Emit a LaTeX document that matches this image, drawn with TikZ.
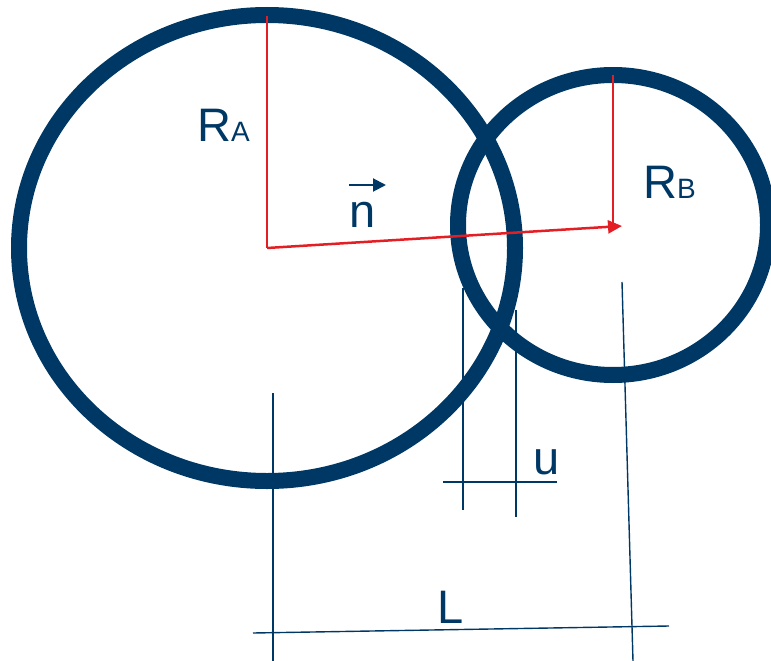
\documentclass[tikz,border=0pt]{standalone}
\usepackage{fontspec}
\setmainfont{Liberation Sans}
\usetikzlibrary{arrows.meta}
\definecolor{navy}{RGB}{0,56,101}
\definecolor{vecred}{RGB}{227,30,36}
\newcommand{\subtxt}[1]{{\fontsize{28}{30}\selectfont #1}}

\begin{document}
\begin{tikzpicture}[x=1pt,y=-1pt,
  ring/.style={draw=navy,line width=16pt},
  dim/.style={navy,line width=1.4pt},
  radline/.style={vecred,line width=1.5pt},
  lbl/.style={navy,inner sep=0pt,anchor=base west,font=\fontsize{47}{50}\selectfont}]
\useasboundingbox (0,0) rectangle (771,661);
% centres and radius ends
\coordinate (A) at (267,248);
\coordinate (B) at (613,225);
\coordinate (Atop) at (267,16);
\coordinate (Btop) at (613,75);
\coordinate (Btip) at (622,226);
% the two rings
\draw[ring] (A) ellipse [x radius=248pt, y radius=233pt];
\draw[ring] (B) ellipse [x radius=155pt, y radius=150pt];
% radii and normal vector
\draw[radline] (Atop) -- (A);
\draw[radline] (Btop) -- (B);
\draw[vecred,line width=2.5pt,-{Triangle[length=14pt,width=13pt]}] (A) -- (Btip);
% labels
\node[lbl] (ra) at (197,141) {R\subtxt{A}};
\node[lbl] (rb) at (643,198) {R\subtxt{B}};
\node[lbl] (n) at (349,227) {n};
\coordinate (n1) at (349,185);
\coordinate (n2) at (386,185);
\draw[navy,line width=2pt,-{Triangle[length=13pt,width=13pt]}] (n1) -- (n2);
% overlap u
\coordinate (u1t) at (463,288);
\coordinate (u1b) at (463,510);
\coordinate (u2t) at (516,310);
\coordinate (u2b) at (516,517);
\coordinate (uh1) at (443,482);
\coordinate (uh2) at (557,482);
\draw[dim] (u1t) -- (u1b);
\draw[dim] (u2t) -- (u2b);
\draw[dim] (uh1) -- (uh2);
\node[lbl] (u) at (533,474) {u};
% distance L
\coordinate (l1t) at (273,393);
\coordinate (l1b) at (273,661);
\coordinate (l2t) at (622,282);
\coordinate (l2b) at (633,661);
\coordinate (lh1) at (253,633);
\coordinate (lh2) at (669,626);
\draw[dim] (l1t) -- (l1b);
\draw[dim] (l2t) -- (l2b);
\draw[dim] (lh1) -- (lh2);
\node[lbl] (L) at (437,623) {L};
\end{tikzpicture}
\end{document}
